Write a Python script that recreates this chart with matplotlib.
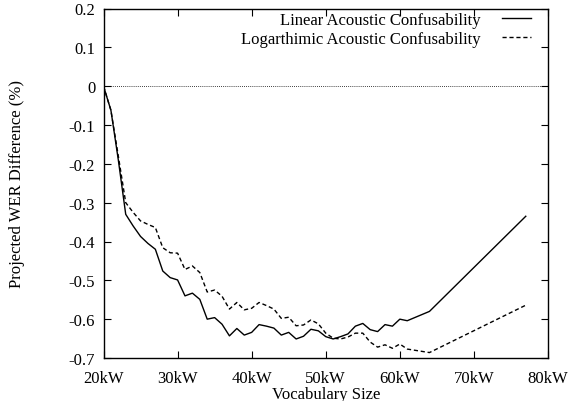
import matplotlib
matplotlib.use("Agg")
import matplotlib.pyplot as plt

plt.rcParams['font.family'] = ['Liberation Serif', 'DejaVu Serif']

vocab_kw = [20, 21, 22, 23, 24, 25, 26, 27, 28, 29, 30, 31, 32, 33, 34, 35, 36, 37, 38, 39,
            40, 41, 42, 43, 44, 45, 46, 47, 48, 49, 50, 51, 52, 53, 54, 55, 56, 57, 58, 59,
            60, 61, 64, 77]
linear = [0, -0.062, -0.19, -0.33, -0.36, -0.387, -0.405, -0.42, -0.476, -0.493, -0.499,
          -0.54, -0.533, -0.549, -0.60, -0.596, -0.613, -0.643, -0.624, -0.641, -0.634,
          -0.614, -0.618, -0.623, -0.641, -0.634, -0.651, -0.644, -0.626, -0.63, -0.645,
          -0.651, -0.645, -0.638, -0.618, -0.611, -0.627, -0.632, -0.614, -0.618, -0.60,
          -0.604, -0.58, -0.335]
logarithmic = [0, -0.062, -0.18, -0.30, -0.325, -0.347, -0.356, -0.364, -0.416, -0.429, -0.43,
               -0.472, -0.463, -0.48, -0.53, -0.525, -0.541, -0.574, -0.557, -0.576, -0.572,
               -0.557, -0.565, -0.574, -0.598, -0.595, -0.617, -0.615, -0.602, -0.612, -0.636,
               -0.649, -0.651, -0.646, -0.636, -0.636, -0.659, -0.672, -0.666, -0.675, -0.664,
               -0.677, -0.686, -0.564]

xticks = [20, 30, 40, 50, 60, 70, 80]
xtick_labels = ["20kW", "30kW", "40kW", "50kW", "60kW", "70kW", "80kW"]
yticks = [0.2, 0.1, 0, -0.1, -0.2, -0.3, -0.4, -0.5, -0.6, -0.7]
ytick_labels = ["0.2", "0.1", "0", "-0.1", "-0.2", "-0.3", "-0.4", "-0.5", "-0.6", "-0.7"]

W, H = 569, 402
L, R, T, B = 103.5, 548, 9.5, 359
fig = plt.figure(figsize=(W/100, H/100), dpi=100)
ax = fig.add_axes([L/W, 1-B/H, (R-L)/W, (B-T)/H])

ax.axhline(0, color='black', lw=0.6, ls=(0, (1, 1.5)))
ax.plot(vocab_kw, linear, color='black', lw=1.0, label='Linear Acoustic Confusability')
ax.plot(vocab_kw, logarithmic, color='black', lw=1.0, ls=(0, (3, 2)),
        label='Logarthimic Acoustic Confusability')

ax.set_xlim(20, 80)
ax.set_ylim(-0.7, 0.2)
ax.set_xticks(xticks)
ax.set_xticklabels(xtick_labels)
ax.set_yticks(yticks)
ax.set_yticklabels(ytick_labels)
ax.tick_params(direction='in', top=True, right=True, length=5, width=0.8,
               labelsize=12, colors='black')
ax.tick_params(axis='x', pad=9)
ax.tick_params(axis='y', pad=6)
for s in ax.spines.values():
    s.set_linewidth(1.0)

ax.set_xlabel('Vocabulary Size', fontsize=12)
ax.xaxis.set_label_coords(0.5, (B-387)/(B-T))
ax.set_ylabel('Projected WER Difference (%)', fontsize=12)
ax.yaxis.set_label_coords((25-L)/(R-L), 0.5)

ax.legend(loc='upper right', frameon=False, markerfirst=False, fontsize=12,
          handlelength=1.75, handletextpad=1.3, labelspacing=0.17,
          borderaxespad=0, borderpad=0,
          bbox_to_anchor=((531-L)/(R-L), 1-(13-T)/(B-T)))

fig.savefig('out.png', dpi=100)
